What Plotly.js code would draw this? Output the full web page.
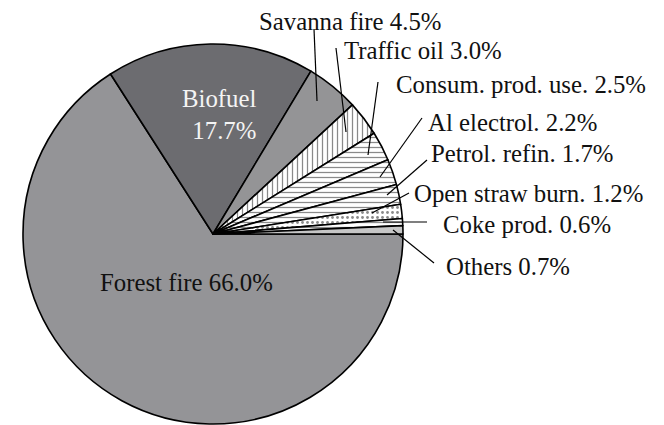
<!DOCTYPE html>
<html>
<head>
<meta charset="utf-8">
<script src="https://cdn.plot.ly/plotly-3.0.1.min.js"></script>
<style>
  html, body { margin: 0; padding: 0; background: #fff; }
  #chart { width: 664px; height: 425px; }
</style>
</head>
<body>
<div id="chart"></div>
<script>
// Emission sources and their shares (%), listed clockwise from 3 o'clock
const sources = ['Forest fire', 'Biofuel', 'Savanna fire', 'Traffic oil', 'Consum. prod. use.',
                 'Al electrol.', 'Petrol. refin.', 'Open straw burn.', 'Coke prod.', 'Others'];
const shares = [66.0, 17.7, 4.5, 3.0, 2.5, 2.2, 1.7, 1.2, 0.6, 0.7];

// Slice fills
const fillColors = ['#949497', '#6c6c70', '#949496', '#ffffff', '#ffffff',
                    '#ffffff', '#ffffff', '#ffffff', '#ffffff', '#c6c6c6'];
const patternShapes = ['', '', '', '|', '-', '-', '-', '.', '-', ''];

const W = 664, H = 425;
const px = x => x / W;
const py = y => 1 - y / H;

// Outside label placement (pixel space): text left/middle, leader line from -> to
const outside = [
  { i: 2, tx: 257, ty: 22,  l: [314, 29, 317, 101] },
  { i: 3, tx: 342, ty: 50,  l: [336, 48, 346, 132] },
  { i: 4, tx: 394, ty: 84,  l: [378, 82, 368, 155] },
  { i: 5, tx: 426, ty: 122, l: [422, 118, 380, 177] },
  { i: 6, tx: 429, ty: 154, l: [427, 160, 387, 195] },
  { i: 7, tx: 412, ty: 193, l: [409, 193, 372, 213] },
  { i: 8, tx: 441, ty: 224, l: [427, 222, 383, 222] },
  { i: 9, tx: 444, ty: 266, l: [434, 263, 393, 230] }
];

const SERIF = 'Times New Roman, Liberation Serif, Tinos, serif';
const font = { family: SERIF, size: 24.8, color: '#111111' };
const pct = v => v.toFixed(1) + '%';

const annotations = outside.map(o => ({
  xref: 'paper', yref: 'paper', x: px(o.tx), y: py(o.ty),
  xanchor: 'left', yanchor: 'middle', showarrow: false,
  text: sources[o.i] + ' ' + pct(shares[o.i]), font: font
}));
annotations.push({
  xref: 'paper', yref: 'paper', x: px(258), y: py(115),
  xanchor: 'right', yanchor: 'middle', align: 'right', showarrow: false,
  text: sources[1] + '<br>' + pct(shares[1]),
  font: Object.assign({}, font, { color: '#f4f4f4' })
});
annotations.push({
  xref: 'paper', yref: 'paper', x: px(98), y: py(282),
  xanchor: 'left', yanchor: 'middle', showarrow: false,
  text: sources[0] + ' ' + pct(shares[0]), font: font
});

const shapes = outside.map(o => ({
  type: 'line', xref: 'paper', yref: 'paper',
  x0: px(o.l[0]), y0: py(o.l[1]), x1: px(o.l[2]), y1: py(o.l[3]),
  line: { color: '#000', width: 1.2 }
}));

const trace = {
  type: 'pie',
  labels: sources,
  values: shares,
  sort: false,
  direction: 'clockwise',
  rotation: 90,
  textinfo: 'none',
  hoverinfo: 'label+percent',
  domain: { x: [px(23), px(403)], y: [py(424), py(44)] },
  marker: {
    colors: fillColors,
    line: { color: '#000', width: 1.6 },
    pattern: {
      shape: patternShapes,
      fgcolor: '#8a8a8a',
      bgcolor: fillColors,
      size: 5,
      solidity: 0.25,
      fillmode: 'replace'
    }
  },
  showlegend: false
};

Plotly.newPlot('chart', [trace], {
  width: W, height: H,
  margin: { l: 0, r: 0, t: 0, b: 0 },
  paper_bgcolor: '#ffffff',
  font: { family: SERIF, size: 24, color: '#111111' },
  showlegend: false,
  annotations: annotations,
  shapes: shapes
}, { staticPlot: true });
</script>
</body>
</html>
